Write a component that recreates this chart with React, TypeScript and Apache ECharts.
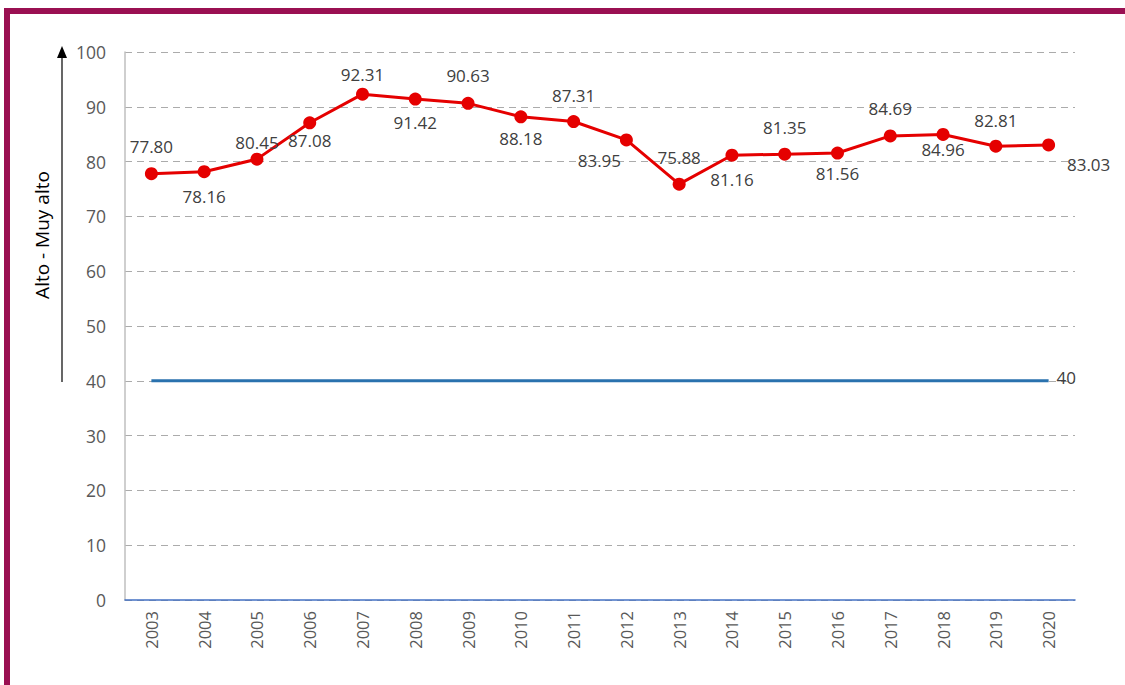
import React, { useEffect, useRef } from "react";
import * as echarts from "echarts";

const years = ["2003","2004","2005","2006","2007","2008","2009","2010","2011","2012","2013","2014","2015","2016","2017","2018","2019","2020"];
const values = [77.8, 78.16, 80.45, 87.08, 92.31, 91.42, 90.63, 88.18, 87.31, 83.95, 75.88, 81.16, 81.35, 81.56, 84.69, 84.96, 82.81, 83.03];
const threshold = 40;
const yTicks = { min: 0, max: 100, interval: 10 };
const yTitle = "Alto - Muy alto";

// label offsets (dx, dy) from each point's centre — styling only
const labelOffsets: [number, number][] = [
  [0, -27], [0, 25], [0, -17], [0, 18], [0, -20], [0, 23], [0, -28], [0, 22], [0, -26],
  [-27, 21], [0, -27], [0, 24], [0, -27], [0, 20], [0, -27], [0, 15], [0, -26], [40, 20],
];

export default function App() {
  const ref = useRef<HTMLDivElement>(null);
  useEffect(() => {
    const chart = echarts.init(ref.current!, null, { renderer: "svg" });
    const font = "'Open Sans', 'Noto Sans', sans-serif";
    chart.setOption({
      animation: false,
      backgroundColor: "#ffffff",
      textStyle: { fontFamily: font },
      grid: { left: 125, right: 50, top: 52, bottom: 85 },
      xAxis: {
        type: "category",
        data: years,
        boundaryGap: true,
        axisLine: { show: true, lineStyle: { color: "#4472C4", width: 1.5 } },
        axisTick: { show: false },
        axisLabel: { rotate: 90, color: "#595959", fontSize: 16.5, margin: 11, fontFamily: font },
        splitLine: { show: false },
      },
      yAxis: {
        type: "value",
        min: yTicks.min,
        max: yTicks.max,
        interval: yTicks.interval,
        axisLine: { show: true, lineStyle: { color: "#BFBFBF", width: 1.5 } },
        axisTick: { show: false },
        axisLabel: { color: "#595959", fontSize: 17.5, margin: 19, fontFamily: font },
        splitLine: { show: true, lineStyle: { color: "#ABABAB", type: [7, 5], width: 1.2 } },
      },
      graphic: [
        { type: "rect", shape: { x: 4, y: 8, width: 1121, height: 6 }, style: { fill: "#9A1052" }, silent: true },
        { type: "rect", shape: { x: 4, y: 8, width: 6, height: 677 }, style: { fill: "#9A1052" }, silent: true },
        { type: "line", shape: { x1: 62, y1: 382, x2: 62, y2: 56 }, style: { stroke: "#000000", lineWidth: 1.2 } },
        { type: "polygon", shape: { points: [[57, 58], [67, 58], [62, 46]] }, style: { fill: "#000000" } },
        {
          type: "text",
          x: 42,
          y: 235,
          rotation: Math.PI / 2,
          style: { text: yTitle, fill: "#000000", font: `19px ${font}`, align: "center", verticalAlign: "middle" },
        },
      ],
      series: [
        {
          type: "line",
          data: years.map(() => threshold),
          symbol: "none",
          lineStyle: { color: "#2A72AE", width: 3 },
          endLabel: {
            show: true,
            formatter: String(threshold),
            color: "#404040",
            fontSize: 17,
            fontFamily: font,
            distance: 8,
            offset: [0, -3],
          },
          z: 2,
        },
        {
          type: "line",
          data: values.map((v, i) => ({
            value: v,
            label: {
              show: true,
              position: "inside",
              offset: labelOffsets[i],
              formatter: v.toFixed(2),
              color: "#404040",
              fontSize: 17,
              fontFamily: font,
            },
          })),
          symbol: "circle",
          symbolSize: 13,
          itemStyle: { color: "#E50000" },
          lineStyle: { color: "#E50000", width: 3 },
          z: 3,
        },
      ],
    });
    return () => chart.dispose();
  }, []);
  return <div ref={ref} style={{ position: "fixed", left: 0, top: 0, width: 1125, height: 685 }} />;
}
